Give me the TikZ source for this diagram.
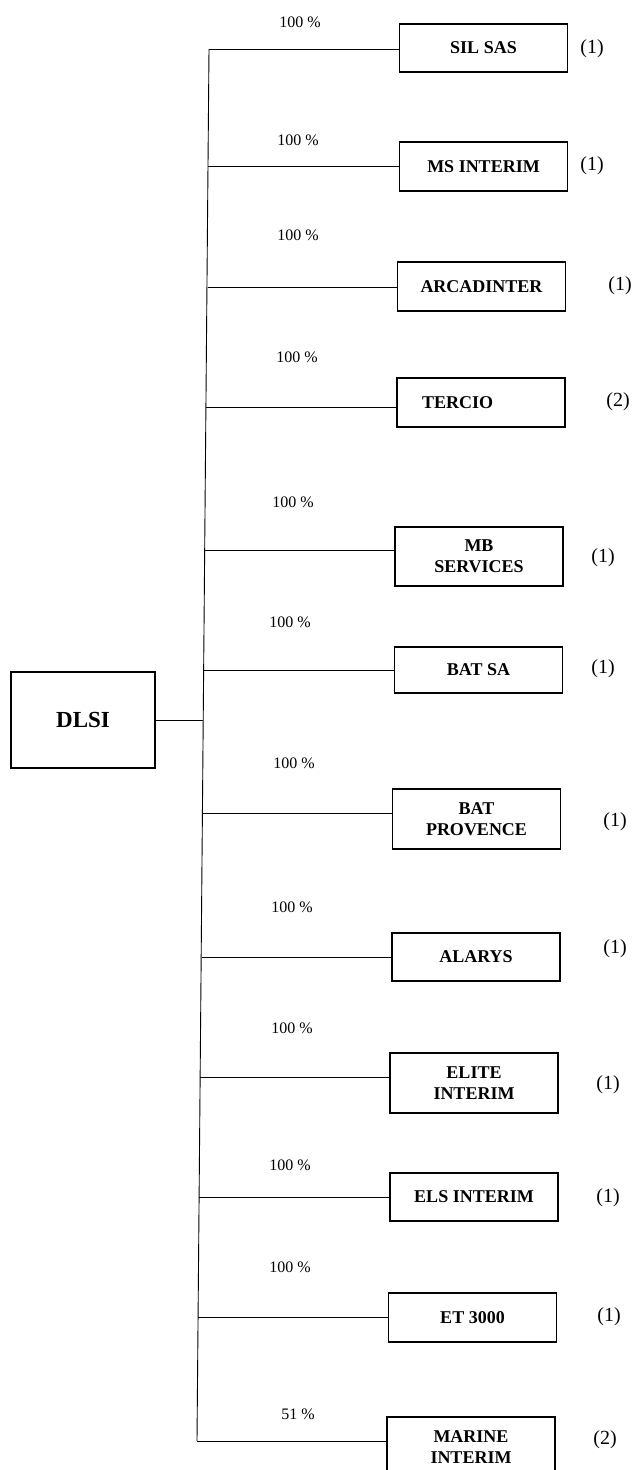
\documentclass[tikz,border=0pt]{standalone}
\usepackage{fontspec}
\setmainfont{Liberation Serif}

\begin{document}
\begin{tikzpicture}[x=1pt,y=-1pt,
  co/.style={draw, line width=1.1pt, rectangle, minimum width=168pt, inner sep=0pt,
    align=center, font=\bfseries\fontsize{18}{21}\selectfont},
  pct/.style={font=\fontsize{16}{16}\selectfont},
  nb/.style={font=\fontsize{20}{20}\selectfont},
  lnk/.style={line width=0.9pt}]
  \path[use as bounding box, clip] (0,0) rectangle (639,1470);

  % parent
  \node[co, minimum width=144pt, minimum height=96pt, font=\bfseries\fontsize{23}{23}\selectfont] (dlsi) at (83,720) {DLSI};

  % subsidiaries
  \node[co, minimum height=48pt] (sil) at (483.5,48) {SIL SAS};
  \node[co, minimum height=49pt] (ms) at (483.5,166.5) {MS INTERIM};
  \node[co, minimum height=49pt] (arca) at (481.5,286.5) {ARCADINTER};
  \node[co, minimum height=49pt, text width=118pt, inner xsep=25pt, align=left] (tercio) at (481,402.5) {TERCIO};
  \node[co, minimum height=59pt] (mb) at (479,556.5) {MB\\SERVICES};
  \node[co, minimum height=46pt] (batsa) at (478.5,670) {BAT SA};
  \node[co, minimum height=60pt] (batpr) at (476.5,819) {BAT\\PROVENCE};
  \node[co, minimum height=48pt] (alarys) at (476,957) {ALARYS};
  \node[co, minimum height=60pt] (elite) at (474,1083) {ELITE\\INTERIM};
  \node[co, minimum height=48pt] (els) at (474,1197) {ELS INTERIM};
  \node[co, minimum height=49pt] (et) at (472.5,1317.5) {ET 3000};
  \node[co, minimum height=60pt] (marine) at (471,1447) {MARINE\\INTERIM};

  % trunk
  \foreach \n/\tx/\ly in {sil/209/49, ms/208/166, arca/207.5/287, tercio/206/407,
      mb/204.5/550, batsa/203.5/670, batpr/202.5/813, alarys/201.5/957,
      elite/200/1077, els/199/1197, et/198/1317, marine/197/1441}
    \coordinate (j\n) at (\tx,\ly);
  \coordinate (jdlsi) at (203,720);
  \draw[lnk] (jsil) -- (jmarine);
  \draw[lnk] (dlsi.east |- jdlsi) -- (jdlsi);

  \foreach \n in {sil,ms,arca,tercio,mb,batsa,batpr,alarys,elite,els,et,marine}
    \draw[lnk] (j\n) -- (j\n -| \n.west);

  % shares
  \foreach \x/\y/\p in {300/22/100, 298/140/100, 298/235/100, 297/357/100,
      293/502/100, 290/622/100, 294/763/100, 292/907/100,
      292/1028/100, 290/1165/100, 290/1267/100, 298/1414/51}
    \node[pct] at (\x,\y) {\p{} \%};

  % notes
  \foreach \x/\y/\k in {592/49/1, 592/166/1, 620/286/1, 618/402/2,
      603/558/1, 603/669/1, 615/822/1, 615/949/1,
      608/1085/1, 608/1198/1, 609/1317/1, 605/1440/2}
    \node[nb] at (\x,\y) {(\k)};
\end{tikzpicture}
\end{document}
